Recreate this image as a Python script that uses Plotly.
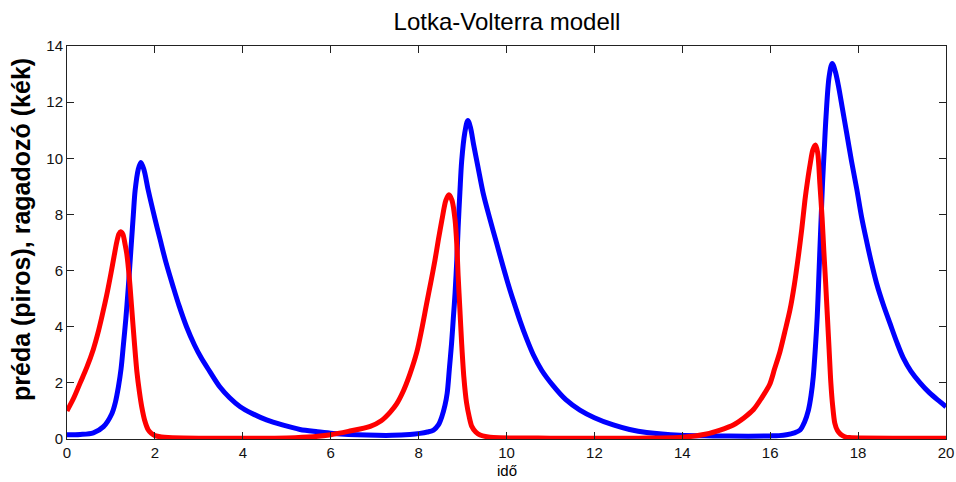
import plotly.graph_objects as go

# Prey (préda, red)
prey_t = [0.0, 0.15, 0.3, 0.45, 0.6, 0.7, 0.8, 0.9, 1.0, 1.07, 1.13, 1.18, 1.22, 1.27, 1.32, 1.36,
          1.42, 1.47, 1.53, 1.59, 1.65, 1.70, 1.77, 1.85, 1.92, 2.0, 2.15, 2.3, 3.0,
          4.0, 5.0, 5.6, 6.0, 6.4, 6.9, 7.15, 7.35, 7.5, 7.65, 7.8, 7.96, 8.07, 8.18, 8.28, 8.37,
          8.45, 8.53, 8.62, 8.69, 8.76, 8.83, 8.87, 8.90, 8.94, 8.98, 9.03, 9.09, 9.15, 9.21, 9.3,
          9.4, 9.55, 9.7, 11.0, 13.0, 14.0, 14.55, 14.86, 15.16, 15.4, 15.62, 15.8, 15.99, 16.1,
          16.22, 16.33, 16.45, 16.55, 16.64, 16.72, 16.79, 16.85, 16.91, 16.97, 17.03, 17.08, 17.13,
          17.18, 17.22, 17.26, 17.30, 17.34, 17.38, 17.42, 17.47, 17.53, 17.60, 17.7, 17.8, 20.0]
prey_v = [1.0, 1.45, 2.0, 2.55, 3.2, 3.75, 4.4, 5.1, 5.9, 6.5, 7.0, 7.3, 7.38, 7.3, 6.95, 6.6,
          5.7, 4.7, 3.5, 2.4, 1.65, 1.15, 0.65, 0.32, 0.2, 0.12, 0.07, 0.05, 0.03,
          0.03, 0.04, 0.08, 0.15, 0.27, 0.45, 0.65, 0.95, 1.25, 1.7, 2.3, 3.1, 3.9, 4.8, 5.6, 6.35,
          7.1, 7.8, 8.5, 8.7, 8.5, 7.8, 6.9, 5.8, 4.6, 3.4, 2.2, 1.3, 0.8, 0.45, 0.25,
          0.14, 0.08, 0.05, 0.03, 0.03, 0.06, 0.18, 0.32, 0.5, 0.75, 1.05, 1.45, 1.95, 2.5,
          3.1, 3.8, 4.6, 5.5, 6.5, 7.5, 8.5, 9.2, 9.8, 10.3, 10.47, 10.2, 9.1,
          7.9, 6.7, 5.6, 4.4, 3.2, 2.0, 1.2, 0.56, 0.3, 0.17, 0.08, 0.05, 0.03]

# Predator (ragadozó, blue)
pred_t = [0.0, 0.3, 0.6, 0.83, 1.02, 1.1, 1.17, 1.23, 1.28, 1.34, 1.39, 1.43, 1.47, 1.51, 1.55,
          1.62, 1.68, 1.75, 1.85, 2.0, 2.12, 2.25, 2.42, 2.55, 2.72, 2.9, 3.05, 3.25, 3.48, 3.7,
          3.94, 4.2, 4.54, 4.9, 5.3, 5.7, 6.06, 6.82, 7.4, 7.8, 8.03, 8.2, 8.34, 8.45, 8.53, 8.6,
          8.65, 8.70, 8.75, 8.79, 8.83, 8.87, 8.90, 8.94, 8.98, 9.05, 9.12, 9.18, 9.25, 9.35,
          9.47, 9.62, 9.78, 9.93, 10.08, 10.2, 10.31, 10.45, 10.61, 10.8, 11.06, 11.35,
          11.67, 12.0, 12.43, 12.8, 13.19, 13.95, 14.7, 15.5, 16.0, 16.2, 16.37, 16.55, 16.68,
          16.78, 16.87, 16.93, 16.98, 17.03, 17.07, 17.10, 17.13, 17.16, 17.19, 17.23, 17.27,
          17.34, 17.41, 17.48, 17.55, 17.64, 17.74, 17.85, 17.97, 18.08, 18.2, 18.3, 18.42,
          18.57, 18.73, 18.88, 19.03, 19.2, 19.41, 19.62, 19.86, 20.0]
pred_v = [0.15, 0.16, 0.22, 0.44, 0.9, 1.3, 1.86, 2.5, 3.3, 4.3, 5.3, 6.2, 7.1, 8.0, 8.85,
          9.6, 9.85, 9.6, 8.85, 7.85, 7.1, 6.3, 5.4, 4.75, 4.0, 3.35, 2.9, 2.4, 1.85, 1.47,
          1.15, 0.92, 0.68, 0.5, 0.34, 0.26, 0.2, 0.14, 0.13, 0.16, 0.2, 0.25, 0.32, 0.5, 0.8, 1.2,
          1.63, 2.5, 3.4, 4.3, 5.2, 6.4, 7.55, 8.8, 9.9, 10.9, 11.35, 11.1, 10.5, 9.7,
          8.75, 7.85, 6.95, 6.1, 5.3, 4.72, 4.2, 3.6, 3.0, 2.45, 1.9, 1.4,
          1.03, 0.76, 0.5, 0.34, 0.23, 0.13, 0.11, 0.1, 0.11, 0.12, 0.15, 0.22, 0.32,
          0.6, 1.03, 1.55, 2.22, 3.3, 4.36, 5.5, 6.73, 7.9, 9.1, 10.3, 11.48,
          12.9, 13.38, 13.1, 12.6, 11.8, 10.9, 9.9, 8.9, 7.9, 7.0, 6.3, 5.55,
          4.8, 4.1, 3.45, 2.88, 2.42, 2.0, 1.65, 1.33, 1.15]

x_ticks = [0, 2, 4, 6, 8, 10, 12, 14, 16, 18, 20]
y_ticks = [0, 2, 4, 6, 8, 10, 12, 14]

FONT = "Liberation Sans, Arial, sans-serif"

W, H = 956, 482

fig = go.Figure()
fig.add_trace(go.Scatter(x=pred_t, y=pred_v, mode="lines",
                         line=dict(color="#0000ff", width=5, shape="spline", smoothing=0.9),
                         showlegend=False))
fig.add_trace(go.Scatter(x=prey_t, y=prey_v, mode="lines",
                         line=dict(color="#ff0000", width=5, shape="spline", smoothing=0.8),
                         showlegend=False))

axis_common = dict(showline=True, linecolor="#222222", linewidth=1, mirror="ticks",
                   ticks="inside", ticklen=7, tickwidth=1, tickcolor="#222222",
                   showgrid=False, zeroline=False, automargin=False,
                   tickfont=dict(family=FONT, size=15, color="#111111"))

fig.update_xaxes(range=[0, 20], tickvals=x_ticks, ticktext=[str(v) for v in x_ticks],
                 ticklabeloverflow="allow", **axis_common)
fig.update_yaxes(range=[0, 14], tickvals=y_ticks, ticktext=[str(v) for v in y_ticks], **axis_common)

fig.update_layout(
    width=W, height=H,
    margin=dict(l=67, r=W - 946, t=46, b=H - 439),
    plot_bgcolor="white", paper_bgcolor="white",
    title=dict(text="Lotka-Volterra modell", x=507 / W, xanchor="center",
               y=1 - 22 / H, yanchor="middle", yref="container",
               font=dict(family=FONT, size=24, color="#000000")),
    annotations=[
        dict(text="<b>préda (piros), ragadozó (kék)</b>", xref="paper", yref="paper",
             x=(21 - 67) / 879, y=(439 - 230) / 393, textangle=-90, showarrow=False,
             xanchor="center", yanchor="middle",
             font=dict(family=FONT, size=25, color="#000000")),
        dict(text="idő", xref="paper", yref="paper",
             x=0.5, y=(439 - 470) / 393, showarrow=False,
             xanchor="center", yanchor="middle",
             font=dict(family=FONT, size=15, color="#000000")),
    ],
)

fig.write_html("out.html", config={"displayModeBar": False},
               post_script="document.body.style.margin='0';document.body.style.overflow='hidden';")
